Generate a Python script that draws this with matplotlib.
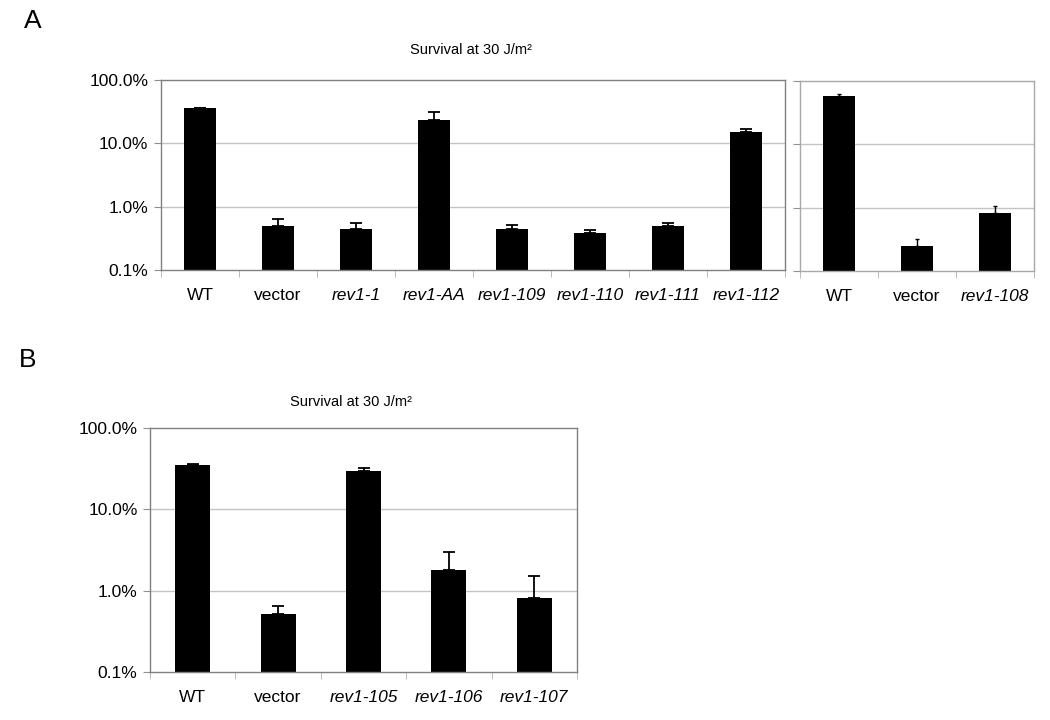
import numpy as np
import matplotlib
matplotlib.use('Agg')
import matplotlib.pyplot as plt
from matplotlib.ticker import FixedLocator, FixedFormatter, NullLocator

plt.rcParams['font.family'] = ['Liberation Sans', 'DejaVu Sans']

# ============= Data (survival in %, upper error in %)
a_labels = ['WT', 'vector', 'rev1-1', 'rev1-AA', 'rev1-109', 'rev1-110', 'rev1-111', 'rev1-112']
a_values = [35.5, 0.50, 0.45, 23.0, 0.44, 0.39, 0.49, 15.0]
a_errors = [0.8, 0.14, 0.11, 8.0, 0.08, 0.045, 0.06, 2.0]

a2_labels = ['WT', 'vector', 'rev1-108']
a2_values = [58.0, 0.25, 0.81]
a2_errors = [4.0, 0.07, 0.25]

b_labels = ['WT', 'vector', 'rev1-105', 'rev1-106', 'rev1-107']
b_values = [35.3, 0.51, 30.0, 1.8, 0.82]
b_errors = [0.7, 0.13, 1.8, 1.2, 0.7]

ytick_vals = [0.1, 1, 10, 100]
ytick_text = ['0.1%', '1.0%', '10.0%', '100.0%']
title = 'Survival at 30 J/m\u00b2'


def draw_panel(ax, labels, values, errors, spine_col, show_ylabels=True, capsize=4.5, elw=1.3):
    x = np.arange(len(labels))
    ax.set_yscale('log')
    ax.set_ylim(0.1, 100)
    ax.set_xlim(-0.5, len(labels) - 0.5)
    for v in [1, 10]:
        ax.axhline(v, color='#c4c4c4', lw=1.0, zorder=0)
    ax.bar(x, values, width=0.41, color='black', zorder=2)
    ax.errorbar(x, values, yerr=[np.zeros(len(values)), errors], fmt='none',
                ecolor='black', elinewidth=elw, capsize=capsize, capthick=elw, zorder=3)
    ax.yaxis.set_major_locator(FixedLocator(ytick_vals))
    ax.yaxis.set_minor_locator(NullLocator())
    if show_ylabels:
        ax.yaxis.set_major_formatter(FixedFormatter(ytick_text))
    else:
        ax.yaxis.set_major_formatter(FixedFormatter([''] * 4))
    ax.tick_params(axis='y', length=5, color='#909090', labelsize=12.5, pad=4)
    ax.set_xticks(x)
    ax.set_xticklabels(labels)
    ax.set_xticks(np.arange(len(labels) + 1) - 0.5, minor=True)
    ax.tick_params(axis='x', which='major', length=0, labelsize=12.5, pad=13)
    ax.tick_params(axis='x', which='minor', length=5, color='#b0b0b0')
    for lab in ax.get_xticklabels():
        if lab.get_text().startswith('rev1'):
            lab.set_style('italic')
    for sp in ax.spines.values():
        sp.set_color(spine_col)
        sp.set_linewidth(1.0)


fig = plt.figure(figsize=(10.5, 7.2), dpi=100)

ax1 = fig.add_axes([161 / 1050, 450 / 720, 624 / 1050, 190 / 720])
draw_panel(ax1, a_labels, a_values, a_errors, '#808080')

ax2 = fig.add_axes([800 / 1050, 449 / 720, 234 / 1050, 190 / 720])
draw_panel(ax2, a2_labels, a2_values, a2_errors, '#a8a8a8', show_ylabels=False, capsize=1.2, elw=1.0)

ax3 = fig.add_axes([150 / 1050, 48 / 720, 427 / 1050, 244 / 720])
draw_panel(ax3, b_labels, b_values, b_errors, '#808080')

fig.text(471 / 1050, 1 - 50 / 720, title, ha='center', va='center', fontsize=10.5)
fig.text(351 / 1050, 1 - 402 / 720, title, ha='center', va='center', fontsize=10.5)
fig.text(24 / 1050, 1 - 21 / 720, 'A', ha='left', va='center', fontsize=19)
fig.text(19 / 1050, 1 - 360 / 720, 'B', ha='left', va='center', fontsize=19)

fig.savefig('out.png', dpi=100)
